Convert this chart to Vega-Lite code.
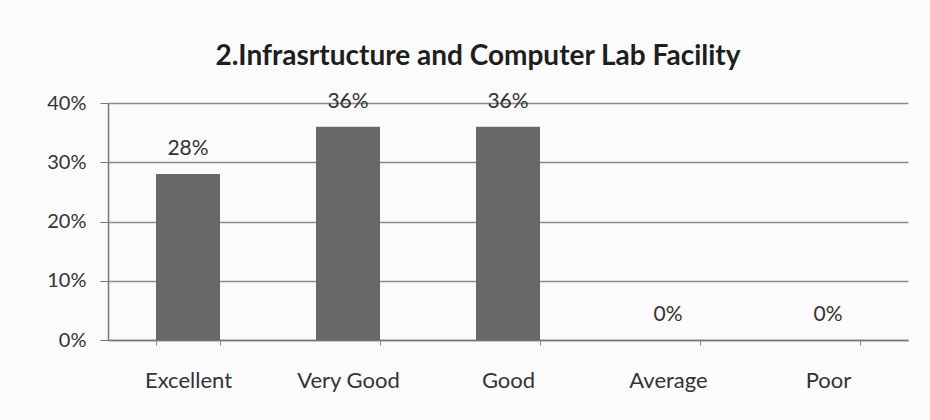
{
  "$schema": "https://vega.github.io/schema/vega-lite/v6.json",
  "width": 800,
  "height": 237,
  "autosize": {"type": "none"},
  "padding": {"left": 108, "top": 103, "right": 22, "bottom": 80},
  "background": "#fbfbfb",
  "title": {
    "text": "2.Infrasrtucture and Computer Lab Facility",
    "font": "Lato",
    "fontSize": 28,
    "fontWeight": "bold",
    "color": "#1e1e1e",
    "anchor": "middle",
    "dx": -30,
    "baseline": "middle",
    "offset": 6
  },
  "data": {
    "values": [
      {"rating": "Excellent", "pct": 0.28},
      {"rating": "Very Good", "pct": 0.36},
      {"rating": "Good", "pct": 0.36},
      {"rating": "Average", "pct": 0},
      {"rating": "Poor", "pct": 0}
    ]
  },
  "encoding": {
    "x": {
      "field": "rating",
      "type": "nominal",
      "sort": null,
      "scale": {"paddingInner": 0.6, "paddingOuter": 0.3},
      "axis": {
        "title": null,
        "labelAngle": 0,
        "labelFont": "Lato",
        "labelFontSize": 22,
        "labelColor": "#333333",
        "labelPadding": 25,
        "domainColor": "#777777",
        "domainWidth": 1.5,
        "tickColor": "#888888",
        "tickBand": "extent",
        "tickSize": 5,
        "grid": false
      }
    },
    "y": {
      "field": "pct",
      "type": "quantitative",
      "scale": {"domain": [0, 0.4]},
      "axis": {
        "title": null,
        "format": ".0%",
        "values": [0, 0.1, 0.2, 0.3, 0.4],
        "labelFont": "Lato",
        "labelFontSize": 20,
        "labelColor": "#333333",
        "labelPadding": 14,
        "domainColor": "#777777",
        "domainWidth": 1.5,
        "tickColor": "#777777",
        "tickSize": 8,
        "grid": true,
        "gridColor": "#8a8a8a",
        "gridWidth": 1.5
      }
    }
  },
  "layer": [
    {"mark": {"type": "bar", "color": "#686868"}},
    {
      "mark": {"type": "text", "baseline": "middle", "dy": -25, "font": "Lato", "fontSize": 21, "color": "#333333"},
      "encoding": {"text": {"field": "pct", "type": "quantitative", "format": ".0%"}}
    }
  ],
  "config": {"view": {"stroke": null}}
}
